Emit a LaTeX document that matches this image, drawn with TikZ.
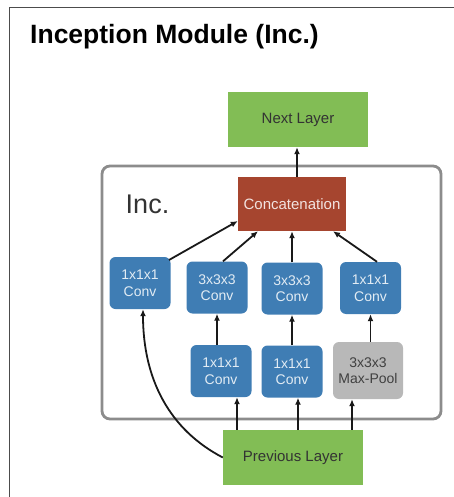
\documentclass[tikz,border=0pt]{standalone}
\usepackage{fontspec}
\setmainfont{Liberation Sans}
\usetikzlibrary{arrows.meta}
\definecolor{layergreen}{HTML}{82BD55}
\definecolor{convblue}{HTML}{3F7DB4}
\definecolor{concatred}{HTML}{A6452F}
\definecolor{poolgray}{HTML}{B8B8B8}
\definecolor{framegray}{HTML}{8C8C8C}
\tikzset{
  box/.style={draw=none, inner sep=0pt, align=center, font=\fontsize{14}{16.5}\selectfont},
  layer/.style={box, fill=layergreen, text=black!80, minimum width=140pt, minimum height=55pt, font=\fontsize{15}{18}\selectfont},
  conv/.style={box, fill=convblue, text=white!85!convblue, rounded corners=6pt, minimum width=61pt, minimum height=52pt},
  pool/.style={box, fill=poolgray, text=black!75, rounded corners=6pt, minimum width=70pt, minimum height=57pt},
  concat/.style={box, fill=concatred, text=white!85!concatred, minimum width=108pt, minimum height=54pt, font=\fontsize{15}{18}\selectfont},
  arr/.style={-{Latex[length=7pt,width=6pt]}, line width=1.8pt, black!90},
}
\begin{document}
\begin{tikzpicture}[x=1pt,y=-1pt]
\useasboundingbox (0,0) rectangle (454,497);
% slide frame edges
\draw[line width=1.6pt, black!70] (9.5,497) -- (9.5,7.5) -- (454,7.5);
% title
\node[anchor=base west, inner sep=0pt, font=\fontsize{26.5}{30}\selectfont\bfseries] (title) at (30,44) {Inception Module (Inc.)};
% module container
\draw[line width=2.8pt, framegray, rounded corners=8pt] (102,166) rectangle (441,419);
\node[inner sep=0pt, text=black!80, font=\fontsize{27}{30}\selectfont] (inc) at (147.5,204) {Inc.};
% layers
\node[layer] (next) at (298,119.5) {Next Layer};
\node[concat] (cat) at (292,204) {Concatenation};
\node[conv] (b1) at (140,283) {1x1x1\\Conv};
\node[conv] (b2) at (217,287.5) {3x3x3\\Conv};
\node[conv] (b3) at (292,288.5) {3x3x3\\Conv};
\node[conv] (b4) at (370.5,288) {1x1x1\\Conv};
\node[conv] (b5) at (221,371) {1x1x1\\Conv};
\node[conv] (b6) at (292,371.5) {1x1x1\\Conv};
\node[pool] (mp) at (368,370.5) {3x3x3\\Max-Pool};
\node[layer] (prev) at (293,457.5) {Previous Layer};
% connections
\draw[arr] ([xshift=5pt]cat.north) -- ([xshift=-1pt]next.south);
\draw[arr] ([xshift=29pt,yshift=23pt]b1.center) -- ([yshift=-17pt]cat.west);
\draw[arr] ([xshift=6pt]b2.north) -- ([xshift=-34pt]cat.south);
\draw[arr] (b3.north) -- (cat.south);
\draw[arr] ([xshift=6.5pt]b4.north) -- ([xshift=41pt]cat.south);
\draw[arr] (b2.south |- b5.north) -- (b2.south);
\draw[arr] (b3.south |- b6.north) -- (b3.south);
\draw[arr] (b4.south |- mp.north) -- (b4.south);
\draw[arr] ([xshift=16pt]b5.south |- prev.north) -- ([xshift=16pt]b5.south);
\draw[arr] ([xshift=6pt]b6.south |- prev.north) -- ([xshift=6pt]b6.south);
\draw[arr] ([xshift=-16pt]mp.south |- prev.north) -- ([xshift=-16pt]mp.south);
\draw[arr] (prev.west) .. controls (170,430) and (143,380) .. ([xshift=3pt]b1.south);
\end{tikzpicture}
\end{document}
